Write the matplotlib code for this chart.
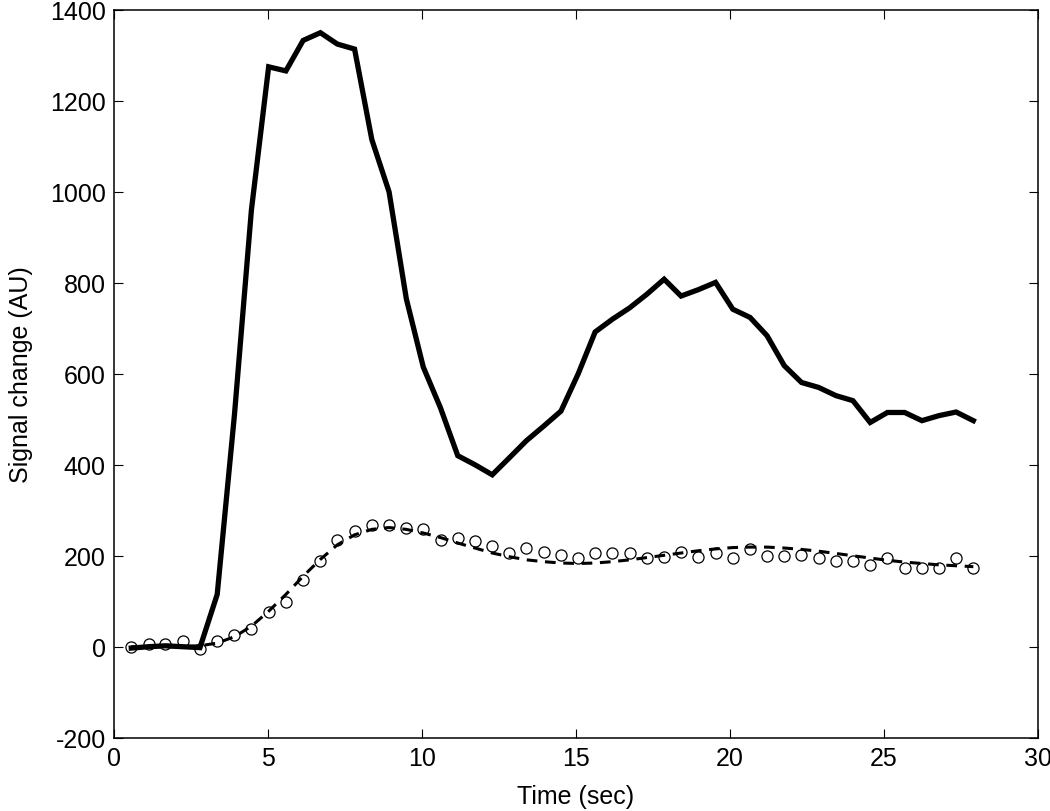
import matplotlib
matplotlib.use('Agg')
import matplotlib.pyplot as plt

# sample times (sec)
time = [0.56, 1.12, 1.67, 2.23, 2.79, 3.35, 3.91, 4.46, 5.02, 5.58,
        6.14, 6.70, 7.25, 7.81, 8.37, 8.93, 9.49, 10.04, 10.60, 11.16,
        11.72, 12.28, 12.83, 13.39, 13.95, 14.51, 15.07, 15.62, 16.18, 16.74,
        17.30, 17.86, 18.41, 18.97, 19.53, 20.09, 20.65, 21.20, 21.76, 22.32,
        22.88, 23.44, 23.99, 24.55, 25.11, 25.67, 26.23, 26.78, 27.34, 27.90]

# thick solid trace
solid = [-3, 0, 2, 0, -2, 115, 510, 960, 1275, 1266,
         1333, 1350, 1325, 1314, 1115, 1000, 765, 615, 525, 420,
         400, 378, 415, 453, 485, 518, 600, 692, 720, 745,
         775, 808, 771, 785, 801, 742, 724, 684, 618, 581,
         570, 552, 541, 493, 515, 515, 497, 508, 516, 497]

# open circles (measured)
circles = [0, 6, 6, 13, -5, 12, 26, 39, 76, 98,
           147, 188, 235, 255, 267, 267, 261, 259, 235, 240,
           233, 222, 206, 216, 209, 202, 194, 205, 205, 205,
           195, 198, 209, 198, 205, 196, 214, 199, 200, 202,
           194, 189, 188, 180, 196, 174, 174, 172, 194, 172]

# dashed fit
fit = [0, 0, 0, 0, 2, 8, 22, 45, 78, 115,
       155, 192, 224, 246, 258, 262, 258, 250, 240, 228,
       217, 206, 198, 191, 187, 184, 183, 184, 187, 191,
       196, 201, 206, 211, 215, 218, 219, 219, 217, 214,
       210, 205, 200, 195, 190, 186, 183, 180, 178, 176]

plt.rcParams['font.family'] = ['Liberation Sans', 'DejaVu Sans']
plt.rcParams['font.size'] = 18
plt.rcParams['axes.unicode_minus'] = False

fig = plt.figure(figsize=(10.5, 8.12), dpi=100)
ax = fig.add_axes([0.1086, 0.0903, 0.88, 0.8962])

ax.plot(time, solid, color='black', linewidth=3.8, solid_joinstyle='miter')
ax.plot(time, fit, color='black', linewidth=2.2, linestyle=(0, (3.5, 2.5)))
ax.plot(time, circles, linestyle='none', marker='o', markersize=8,
        markerfacecolor='none', markeredgecolor='black', markeredgewidth=0.9)

ax.set_xlim(0, 30)
ax.set_ylim(-200, 1400)
ax.set_xticks([0, 5, 10, 15, 20, 25, 30])
ax.set_yticks([-200, 0, 200, 400, 600, 800, 1000, 1200, 1400])
ax.tick_params(direction='in', top=True, right=True, length=6.5, width=0.8, pad=6)
for s in ax.spines.values():
    s.set_linewidth(1.1)

ax.set_xlabel('Time (sec)', labelpad=10)
ax.set_ylabel('Signal change (AU)', labelpad=12)

fig.savefig('out.png', dpi=100)
